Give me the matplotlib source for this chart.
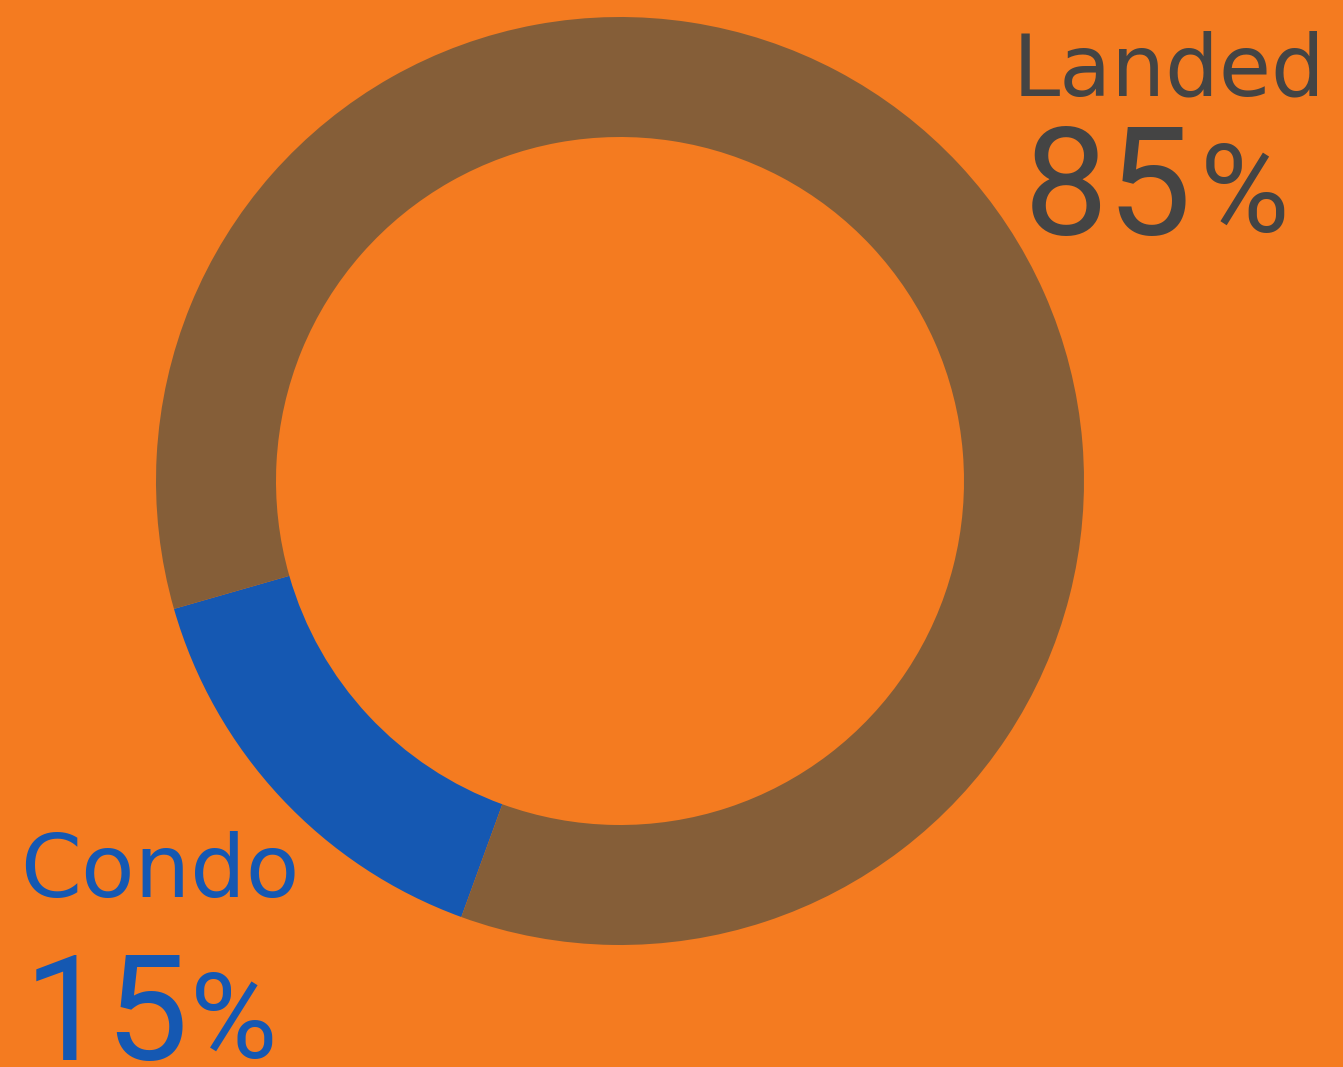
import matplotlib
matplotlib.use("Agg")
import matplotlib.pyplot as plt

categories = ["Condo", "Landed"]
values = [15, 85]
pct_labels = ["15", "85"]

W, H = 1343, 1067
bg = "#F47B20"
colors = ["#1558B2", "#855E38"]
text_colors = ["#1558B2", "#444444"]

fig = plt.figure(figsize=(W / 100, H / 100), dpi=100, facecolor=bg)
ax = fig.add_axes([0, 0, 1, 1])
ax.set_facecolor(bg)

cx, cy, R = 620, H - 481, 464
ax.pie(values, colors=colors, startangle=196, counterclock=True,
       radius=R, center=(cx, cy),
       wedgeprops=dict(width=120, linewidth=0), frame=False)
ax.set_xlim(0, W)
ax.set_ylim(0, H)
ax.set_aspect("auto")
ax.axis("off")

lab_font = "DejaVu Sans"
num_font = "Roboto"
# Landed label
ax.text(1013, H - 95, categories[1], fontsize=61, color=text_colors[1],
        ha="left", va="baseline", family=lab_font)
ax.text(1024, H - 235, pct_labels[1], fontsize=108, color=text_colors[1],
        ha="left", va="baseline", family=num_font)
ax.text(1200, H - 232, "%", fontsize=88, color=text_colors[1],
        ha="left", va="baseline", family=num_font)
# Condo label
ax.text(20, H - 897, categories[0], fontsize=63, color=text_colors[0],
        ha="left", va="baseline", family=lab_font)
ax.text(24, H - 1060, pct_labels[0], fontsize=106, color=text_colors[0],
        ha="left", va="baseline", family=num_font)
ax.text(190, H - 1058, "%", fontsize=86, color=text_colors[0],
        ha="left", va="baseline", family=num_font)

fig.savefig("out.png", dpi=100, facecolor=bg)
